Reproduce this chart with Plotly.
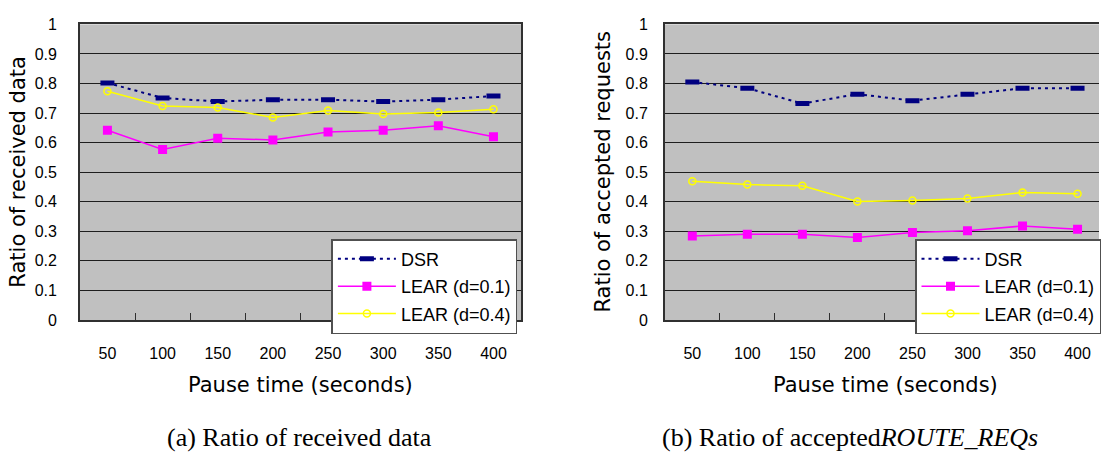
import plotly.graph_objects as go

# ---- data -------------------------------------------------------------
pause_times = ["50", "100", "150", "200", "250", "300", "350", "400"]
y_tick_vals = [0, 0.1, 0.2, 0.3, 0.4, 0.5, 0.6, 0.7, 0.8, 0.9, 1.0]
y_tick_text = ["0", "0.1", "0.2", "0.3", "0.4", "0.5", "0.6", "0.7", "0.8", "0.9", "1"]

series_names = ["DSR", "LEAR (d=0.1)", "LEAR (d=0.4)"]

# (a) ratio of received data
received_dsr = [0.802, 0.751, 0.739, 0.745, 0.745, 0.739, 0.745, 0.758]
received_lear_01 = [0.642, 0.577, 0.615, 0.609, 0.636, 0.642, 0.657, 0.620]
received_lear_04 = [0.774, 0.724, 0.719, 0.685, 0.709, 0.697, 0.702, 0.713]

# (b) ratio of accepted ROUTE_REQs
accepted_dsr = [0.805, 0.784, 0.732, 0.764, 0.742, 0.764, 0.784, 0.784]
accepted_lear_01 = [0.284, 0.290, 0.290, 0.279, 0.296, 0.302, 0.318, 0.307]
accepted_lear_04 = [0.469, 0.458, 0.454, 0.401, 0.404, 0.411, 0.431, 0.427]

# ---- styling ----------------------------------------------------------
W, H = 1101, 459
SANS = "Liberation Sans, Arial, sans-serif"
WIDE = "DejaVu Sans, Verdana, sans-serif"
SERIF = "Liberation Serif, Times New Roman, serif"

styles = [
    dict(line=dict(color="#000080", width=2, dash="3px,4px"),
         marker=dict(symbol="line-ew-open", size=10, color="#000080",
                     line=dict(color="#000080", width=5))),
    dict(line=dict(color="#ff00ff", width=1.5),
         marker=dict(symbol="square", size=9, color="#ff00ff")),
    dict(line=dict(color="#ffff00", width=1.5),
         marker=dict(symbol="circle-open", size=7, color="#ffff00",
                     line=dict(color="#ffff00", width=1.5))),
]


def px_x(p):
    return p / W


def px_y(p):
    return 1 - p / H


fig = go.Figure()

panels = [
    ("x", "y", "legend", [received_dsr, received_lear_01, received_lear_04]),
    ("x2", "y2", "legend2", [accepted_dsr, accepted_lear_01, accepted_lear_04]),
]
for xa, ya, lg, values in panels:
    for name, vals, st in zip(series_names, values, styles):
        fig.add_trace(go.Scatter(
            x=pause_times, y=vals, name=name, mode="lines+markers",
            xaxis=xa, yaxis=ya, legend=lg, legendgroup=lg + name,
            line=st["line"], marker=st["marker"],
        ))

plot_top, plot_bottom = 17, 324
ydom = [px_y(plot_bottom), px_y(plot_top)]

common_x = dict(
    type="category", showgrid=False, showline=True, linecolor="#303030",
    linewidth=1.5, ticks="inside", tickson="boundaries", ticklen=7,
    tickcolor="#303030", tickwidth=1, tickfont=dict(family=SANS, size=16, color="#000"),
    ticklabelstandoff=18, fixedrange=True,
)
common_y = dict(
    range=[0, 1], tickvals=y_tick_vals, ticktext=y_tick_text,
    showgrid=True, gridcolor="#1e1e1e", gridwidth=1, zeroline=False,
    showline=True, linecolor="#303030", linewidth=1.5, ticks="",
    tickfont=dict(family=SANS, size=16, color="#000"),
)

fig.update_layout(
    width=W, height=H,
    margin=dict(l=0, r=0, t=0, b=0),
    paper_bgcolor="white", plot_bgcolor="#c0c0c0",
    xaxis=dict(common_x, domain=[px_x(80), px_x(522)], range=[-0.5, 7.5],
               mirror=True, anchor="y"),
    yaxis=dict(common_y, domain=ydom, mirror=True, anchor="x",
               ticklabelstandoff=18),
    xaxis2=dict(common_x, domain=[px_x(666), 1.0], range=[-0.5, 7.39],
                mirror=True, anchor="y2"),
    yaxis2=dict(common_y, domain=ydom, mirror=False, anchor="x2",
                ticklabelstandoff=12),
    showlegend=True,
)

legend_common = dict(
    bgcolor="white", bordercolor="#505050", borderwidth=1.5,
    font=dict(family=SANS, size=18, color="#000"),
    xanchor="left", yanchor="top", traceorder="grouped", tracegroupgap=1,
    itemwidth=58, entrywidth=124, entrywidthmode="pixels",
)
fig.update_layout(
    legend=dict(legend_common, x=px_x(332), y=px_y(240)),
    legend2=dict(legend_common, x=px_x(917), y=px_y(240)),
)

annotations = [
    dict(text="Ratio of received data", x=px_x(18), y=px_y(170), textangle=-90,
         font=dict(family=WIDE, size=21, color="#000")),
    dict(text="Ratio of accepted requests", x=px_x(604), y=px_y(170), textangle=-90,
         font=dict(family=WIDE, size=21, color="#000")),
    dict(text="Pause time (seconds)", x=px_x(301), y=px_y(392),
         font=dict(family=WIDE, size=21, color="#000")),
    dict(text="Pause time (seconds)", x=px_x(887), y=px_y(392),
         font=dict(family=WIDE, size=21, color="#000")),
    dict(text="(a) Ratio of received data", x=px_x(300), y=px_y(446),
         font=dict(family=SERIF, size=26, color="#000")),
    dict(text="(b) Ratio of accepted<i>ROUTE_REQs</i>", x=px_x(852), y=px_y(446),
         font=dict(family=SERIF, size=26, color="#000")),
]
for a in annotations:
    a.update(xref="paper", yref="paper", showarrow=False,
             xanchor="center", yanchor="middle")
fig.update_layout(annotations=annotations)

fig.write_html("out.html", config={"displayModeBar": False})
